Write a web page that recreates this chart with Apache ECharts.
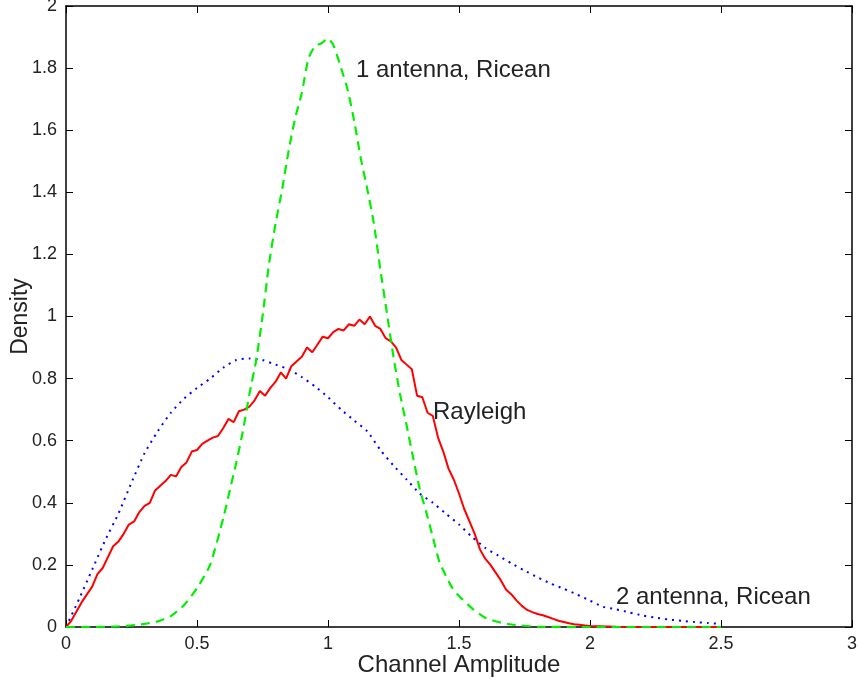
<!DOCTYPE html>
<html>
<head>
<meta charset="utf-8">
<script src="https://cdn.jsdelivr.net/npm/echarts@6/dist/echarts.min.js"></script>
<style>
  html, body { margin: 0; padding: 0; background: #fff; }
  #chart { width: 858px; height: 686px; }
</style>
</head>
<body>
<div id="chart"></div>
<script>
// Rayleigh (red, solid)
const rayleighX = [0, 0.02, 0.04, 0.06, 0.08, 0.10, 0.12, 0.14, 0.16, 0.18, 0.20, 0.22, 0.24, 0.26, 0.28, 0.30,
  0.32, 0.34, 0.36, 0.38, 0.40, 0.42, 0.44, 0.46, 0.48, 0.50, 0.52, 0.54, 0.56, 0.58, 0.60, 0.62, 0.64, 0.66,
  0.68, 0.70, 0.72, 0.74, 0.76, 0.78, 0.80, 0.82, 0.84, 0.86, 0.88, 0.90, 0.92, 0.94, 0.96, 0.98, 1.00, 1.02,
  1.04, 1.06, 1.08, 1.10, 1.12, 1.14, 1.16, 1.18, 1.20, 1.22, 1.24, 1.26, 1.28, 1.30, 1.32, 1.34, 1.36, 1.38,
  1.40, 1.42, 1.44, 1.46, 1.48, 1.50, 1.52, 1.54, 1.56, 1.58, 1.60, 1.62, 1.64, 1.66, 1.68, 1.70, 1.72, 1.74,
  1.76, 1.78, 1.80, 1.82, 1.84, 1.86, 1.88, 1.90, 1.92, 1.94, 1.96, 1.98, 2.00, 2.10, 2.50]
const rayleighY = [0, 0.02, 0.05, 0.08, 0.105, 0.13, 0.17, 0.19, 0.225, 0.26, 0.275, 0.30, 0.33, 0.34, 0.37, 0.39,
  0.40, 0.44, 0.455, 0.47, 0.49, 0.485, 0.515, 0.53, 0.565, 0.57, 0.59, 0.60, 0.61, 0.615, 0.64, 0.67, 0.66, 0.695,
  0.70, 0.71, 0.73, 0.76, 0.745, 0.77, 0.79, 0.82, 0.80, 0.84, 0.855, 0.87, 0.90, 0.885, 0.91, 0.935, 0.93, 0.95,
  0.96, 0.955, 0.975, 0.97, 0.99, 0.975, 1.0, 0.97, 0.96, 0.93, 0.92, 0.90, 0.86, 0.845, 0.83, 0.745, 0.74, 0.69,
  0.68, 0.61, 0.565, 0.51, 0.475, 0.43, 0.38, 0.34, 0.30, 0.25, 0.22, 0.20, 0.175, 0.15, 0.12, 0.105, 0.085, 0.068,
  0.055, 0.048, 0.042, 0.038, 0.032, 0.026, 0.02, 0.016, 0.012, 0.009, 0.007, 0.005, 0.003, 0.001, 0]

// 1 antenna, Ricean (green, dashed)
const ricean1X = [0, 0.1, 0.2, 0.25, 0.3, 0.35, 0.4, 0.45, 0.5, 0.55, 0.6, 0.625, 0.65, 0.675, 0.7, 0.725, 0.75,
  0.775, 0.8, 0.825, 0.85, 0.875, 0.9, 0.925, 0.95, 0.975, 1.0, 1.02, 1.05, 1.075, 1.1, 1.125, 1.15, 1.175, 1.2,
  1.225, 1.25, 1.275, 1.3, 1.325, 1.35, 1.375, 1.4, 1.425, 1.45, 1.475, 1.5, 1.55, 1.6, 1.65, 1.7, 1.75, 1.8, 2.0, 2.5]
const ricean1Y = [0, 0, 0.002, 0.005, 0.01, 0.018, 0.035, 0.07, 0.125, 0.2, 0.35, 0.44, 0.53, 0.63, 0.75, 0.855, 1.0,
  1.17, 1.3, 1.41, 1.535, 1.64, 1.72, 1.83, 1.87, 1.88, 1.895, 1.875, 1.80, 1.73, 1.63, 1.51, 1.41, 1.30, 1.15,
  1.01, 0.87, 0.75, 0.65, 0.545, 0.445, 0.37, 0.29, 0.21, 0.165, 0.125, 0.1, 0.06, 0.03, 0.016, 0.008, 0.004, 0.001, 0, 0]

// 2 antenna, Ricean (blue, dotted)
const ricean2X = [0, 0.05, 0.1, 0.15, 0.2, 0.25, 0.3, 0.35, 0.4, 0.45, 0.5, 0.55, 0.6, 0.65, 0.7, 0.75, 0.8, 0.85,
  0.9, 0.95, 1.0, 1.05, 1.1, 1.15, 1.2, 1.25, 1.3, 1.35, 1.4, 1.45, 1.5, 1.55, 1.6, 1.65, 1.7, 1.75, 1.8, 1.85,
  1.9, 1.95, 2.0, 2.05, 2.1, 2.15, 2.2, 2.25, 2.3, 2.35, 2.4, 2.45, 2.5]
const ricean2Y = [0, 0.09, 0.185, 0.28, 0.365, 0.465, 0.56, 0.63, 0.69, 0.735, 0.77, 0.80, 0.835, 0.86, 0.865, 0.86,
  0.845, 0.83, 0.805, 0.775, 0.74, 0.70, 0.665, 0.63, 0.57, 0.52, 0.475, 0.43, 0.40, 0.365, 0.33, 0.29, 0.255,
  0.23, 0.205, 0.182, 0.16, 0.14, 0.123, 0.105, 0.085, 0.065, 0.057, 0.047, 0.037, 0.03, 0.024, 0.02, 0.016, 0.013, 0.01]

const pairs = (xs, ys) => xs.map((x, i) => [x, ys[i]])
const fontFamily = 'Liberation Sans, Arial, sans-serif'
const textColor = '#222'

const fmt = v => String(Math.round(v * 10) / 10)

const axisCommon = {
    type: 'value',
    min: 0,
    axisLine: { show: true, onZero: false, lineStyle: { color: '#000', width: 1.5 } },
    axisTick: { show: true, inside: true, length: 7, lineStyle: { color: '#000', width: 1 } },
    splitLine: { show: false },
}

const myChart = echarts.init(document.querySelector('#chart'))
myChart.setOption({
    animation: false,
    backgroundColor: '#fff',
    grid: { left: 66, right: 6, top: 6, bottom: 59, containLabel: false, outerBoundsMode: 'none' },
    xAxis: [
        {
            ...axisCommon,
            max: 3,
            interval: 0.5,
            position: 'bottom',
            name: 'Channel Amplitude',
            nameLocation: 'middle',
            nameGap: 26,
            nameMoveOverlap: false,
            nameTextStyle: { fontFamily, fontSize: 24, color: textColor },
            axisLabel: { fontFamily, fontSize: 18, color: textColor, margin: 8, formatter: fmt },
        },
        {
            ...axisCommon,
            max: 3,
            interval: 0.5,
            position: 'top',
            axisLabel: { show: false },
        }
    ],
    yAxis: [
        {
            ...axisCommon,
            max: 2,
            interval: 0.2,
            position: 'left',
            name: 'Density',
            nameLocation: 'middle',
            nameGap: 34,
            nameMoveOverlap: false,
            nameTextStyle: { fontFamily, fontSize: 23, color: textColor },
            axisLabel: { fontFamily, fontSize: 18, color: textColor, margin: 9, formatter: fmt },
        },
        {
            ...axisCommon,
            max: 2,
            interval: 0.2,
            position: 'right',
            axisLabel: { show: false },
        }
    ],
    series: [
        {
            name: '2 antenna, Ricean',
            type: 'line',
            symbol: 'none',
            smooth: 0.2,
            data: pairs(ricean2X, ricean2Y),
            lineStyle: { color: '#0000ff', width: 2, type: [2, 5] },
        },
        {
            name: 'Rayleigh',
            type: 'line',
            symbol: 'none',
            data: pairs(rayleighX, rayleighY),
            lineStyle: { color: '#ff0000', width: 2 },
        },
        {
            name: '1 antenna, Ricean',
            type: 'line',
            symbol: 'none',
            smooth: 0.2,
            data: pairs(ricean1X, ricean1Y),
            lineStyle: { color: '#00f000', width: 2.2, type: [9, 6] },
        }
    ],
    graphic: [
        { type: 'text', x: 356, y: 70, style: { text: '1 antenna, Ricean', fontFamily, fontSize: 24, fill: textColor, verticalAlign: 'middle' } },
        { type: 'text', x: 433, y: 412, style: { text: 'Rayleigh', fontFamily, fontSize: 24, fill: textColor, verticalAlign: 'middle' } },
        { type: 'text', x: 616, y: 597, style: { text: '2 antenna, Ricean', fontFamily, fontSize: 24, fill: textColor, verticalAlign: 'middle' } },
    ]
})
</script>
</body>
</html>
